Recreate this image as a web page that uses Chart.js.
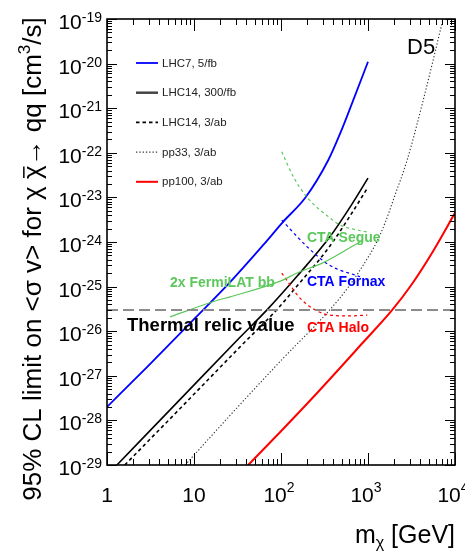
<!DOCTYPE html>
<html><head><meta charset="utf-8">
<script src="https://cdn.jsdelivr.net/npm/chart.js@4/dist/chart.umd.min.js"></script>
<style>html,body{margin:0;padding:0;background:#fff;}</style>
</head><body>
<canvas id="c" width="465" height="554"></canvas>
<script>
// ---- data ----
const lhc7Mass   = [1, 3, 10, 26, 63, 105, 190, 350, 480, 700, 1000];
const lhc7Limit  = [2.0e-28, 1.7e-27, 1.86e-26, 1.26e-25, 8.7e-25, 2.8e-24, 9.8e-24, 6.9e-23, 2.75e-22, 1.8e-21, 1.1e-20];

const lhc14Mass  = [1.3, 7.2, 34, 69, 151, 363, 630, 1000];
const lhc14Limit = [1.0e-29, 3.2e-28, 7.4e-27, 3.0e-26, 1.66e-25, 1.29e-24, 6.3e-24, 2.7e-23];

const lhc14abMass  = [1.6, 7.2, 34, 89, 151, 363, 630, 1000];
const lhc14abLimit = [1.0e-29, 2.0e-28, 4.5e-27, 3.0e-26, 1.0e-25, 8.0e-25, 4.0e-24, 1.7e-23];

const pp33Mass  = [7.9, 26, 100, 363, 600, 1000, 1260, 1585, 2000, 2820, 4270, 7080, 7940];
const pp33Limit = [1.0e-29, 1.3e-28, 2.2e-27, 3.0e-26, 1.0e-25, 4.5e-25, 1.0e-24, 2.8e-24, 1.0e-23, 6.9e-23, 1.4e-21, 7.9e-20, 2.0e-19];

const pp100Mass  = [42, 98, 234, 870, 1900, 3160, 5620, 10000];
const pp100Limit = [1.0e-29, 5.5e-29, 3.3e-28, 5.5e-27, 3.0e-26, 1.1e-25, 6.3e-25, 4.5e-24];

const fermiMass  = [5.3, 19, 26, 105, 151, 302, 870];
const fermiLimit = [2.1e-26, 5.0e-26, 5.9e-26, 1.4e-25, 2.0e-25, 3.4e-25, 1.1e-24];

const segueMass  = [102, 140, 200, 363, 480, 980];
const segueLimit = [1.05e-22, 2.8e-23, 1.0e-23, 3.5e-24, 2.4e-24, 1.66e-24];

const fornaxMass  = [102, 200, 363, 810];
const fornaxLimit = [3.1e-24, 7.8e-25, 3.0e-25, 1.66e-25];

const haloMass  = [102, 174, 363, 600, 980];
const haloLimit = [2.0e-25, 5.0e-26, 2.3e-26, 2.2e-26, 2.3e-26];

const thermalMass  = [1, 10000];
const thermalValue = [3.0e-26, 3.0e-26];

const xTickExponents = [0, 1, 2, 3, 4];
const yTickExponents = [-29, -28, -27, -26, -25, -24, -23, -22, -21, -20, -19];

const legendLabels = ["LHC7, 5/fb", "LHC14, 300/fb", "LHC14, 3/ab", "pp33, 3/ab", "pp100, 3/ab"];

// ---- styling ----
const BLUE = '#0000ff', RED = '#ff0000', GREEN = '#5cc85c', BLACK = '#000000';
const FONT = '"Liberation Sans", Arial, Helvetica, sans-serif';

function pts(ms, vs){ return ms.map((m,i)=>({x:m, y:vs[i]})); }

const datasets = [
  {label:'thermal', data:pts(thermalMass, thermalValue), borderColor:'#8c8c8c', borderWidth:2, borderDash:[11,5]},
  {label:'fermi', data:pts(fermiMass, fermiLimit), borderColor:GREEN, borderWidth:1.2},
  {label:'segue', data:pts(segueMass, segueLimit), borderColor:GREEN, borderWidth:1.2, borderDash:[3,3]},
  {label:'fornax', data:pts(fornaxMass, fornaxLimit), borderColor:BLUE, borderWidth:1.2, borderDash:[3,3]},
  {label:'halo', data:pts(haloMass, haloLimit), borderColor:RED, borderWidth:1.2, borderDash:[3,3]},
  {label:legendLabels[0], data:pts(lhc7Mass, lhc7Limit), borderColor:BLUE, borderWidth:1.8, legend:true},
  {label:legendLabels[1], data:pts(lhc14Mass, lhc14Limit), borderColor:BLACK, borderWidth:1.6, legend:true, legendColor:'#444', legendWidth:2.5},
  {label:legendLabels[2], data:pts(lhc14abMass, lhc14abLimit), borderColor:BLACK, borderWidth:1.6, borderDash:[3.5,3], legend:true},
  {label:legendLabels[3], data:pts(pp33Mass, pp33Limit), borderColor:'#333', borderWidth:1.1, borderDash:[1.3,2], legend:true},
  {label:legendLabels[4], data:pts(pp100Mass, pp100Limit), borderColor:RED, borderWidth:2, legend:true},
];
datasets.forEach(d=>{ d.pointRadius=0; d.fill=false; d.cubicInterpolationMode='monotone'; });

function drawSup(ctx, base, exp, x, y, baseSize, supSize, supRise, align){
  ctx.font = baseSize + 'px ' + FONT;
  const wb = ctx.measureText(base).width;
  ctx.font = supSize + 'px ' + FONT;
  const ws = exp ? ctx.measureText(exp).width : 0;
  const total = wb + ws;
  let x0 = x;
  if (align === 'right') x0 = x - total;
  else if (align === 'center') x0 = x - total/2;
  ctx.textAlign = 'left';
  ctx.textBaseline = 'alphabetic';
  ctx.font = baseSize + 'px ' + FONT;
  ctx.fillText(base, x0, y);
  if (exp){
    ctx.font = supSize + 'px ' + FONT;
    ctx.fillText(exp, x0 + wb, y - supRise);
  }
}

const axesPlugin = {
  id:'rootAxes',
  afterDatasetsDraw(chart){
    const ctx = chart.ctx, xs = chart.scales.x, ys = chart.scales.y, a = chart.chartArea;
    ctx.save();
    ctx.strokeStyle = '#000';
    ctx.fillStyle = '#000';
    // ticks
    ctx.lineWidth = 1;
    ctx.beginPath();
    yTickExponents.forEach(e=>{
      for (let k=1;k<=9;k++){
        if (e === -19 && k>1) break;
        const py = Math.round(ys.getPixelForValue(k*Math.pow(10,e))) + 0.5;
        const len = k===1 ? 10 : 5;
        ctx.moveTo(a.left, py); ctx.lineTo(a.left+len, py);
        ctx.moveTo(a.right, py); ctx.lineTo(a.right-len, py);
      }
    });
    xTickExponents.forEach(e=>{
      for (let k=1;k<=9;k++){
        if (e === 4 && k>1) break;
        const px = Math.round(xs.getPixelForValue(k*Math.pow(10,e))) + 0.5;
        const len = k===1 ? 12 : 6;
        ctx.moveTo(px, a.bottom); ctx.lineTo(px, a.bottom-len);
        ctx.moveTo(px, a.top); ctx.lineTo(px, a.top+len);
      }
    });
    ctx.stroke();
    // frame
    ctx.lineWidth = 1.6;
    ctx.strokeRect(a.left, a.top, a.right-a.left, a.bottom-a.top);

    // y tick labels
    yTickExponents.forEach(e=>{
      const py = ys.getPixelForValue(Math.pow(10,e));
      drawSup(ctx, '10', String(e), a.left-5, py+10, 21, 14, 7, 'right');
    });
    // x tick labels
    xTickExponents.forEach(e=>{
      const px = xs.getPixelForValue(Math.pow(10,e));
      let base, exp;
      if (e===0){ base='1'; exp=''; }
      else if (e===1){ base='10'; exp=''; }
      else { base='10'; exp=String(e); }
      drawSup(ctx, base, exp, px - (exp?2:0), a.bottom+37, 21, 14, 10, 'center');
    });

    // x title: m_chi [GeV]
    {
      const size = 25, sub = 16;
      ctx.font = size+'px '+FONT; const w1 = ctx.measureText('m').width;
      const w3 = ctx.measureText(' [GeV]').width;
      ctx.font = sub+'px '+FONT; const w2 = ctx.measureText('χ').width;
      const x0 = a.right - (w1+w2+w3);
      const yb = a.bottom + 78;
      ctx.textAlign='left'; ctx.textBaseline='alphabetic';
      ctx.font = size+'px '+FONT; ctx.fillText('m', x0, yb);
      ctx.font = sub+'px '+FONT; ctx.fillText('χ', x0+w1, yb+5);
      ctx.font = size+'px '+FONT; ctx.fillText(' [GeV]', x0+w1+w2, yb);
    }

    // y title (rotated)
    {
      const size = 26;
      const segs = [
        {t:'95% CL limit on <σ v> for χ ', s:size, dy:0},
        {t:'χ', s:size, dy:0, over:true},
        {t:'→ qq [cm', s:size, dy:0},
        {t:'3', s:17, dy:-11},
        {t:'/s]', s:size, dy:0},
      ];
      let total = 0;
      segs.forEach(g=>{ ctx.font = g.s+'px '+FONT; g.w = ctx.measureText(g.t).width; total += g.w; });
      ctx.save();
      ctx.translate(41, 259);
      ctx.rotate(-Math.PI/2);
      ctx.textAlign='left'; ctx.textBaseline='alphabetic';
      let x = -total/2;
      segs.forEach(g=>{
        ctx.font = g.s+'px '+FONT;
        ctx.fillText(g.t, x, g.dy);
        if (g.over){
          ctx.lineWidth = 1.5;
          ctx.beginPath(); ctx.moveTo(x+1, -g.s*0.66); ctx.lineTo(x+g.w-1, -g.s*0.66); ctx.stroke();
        }
        x += g.w;
      });
      ctx.restore();
    }

    // legend
    const legendDs = chart.data.datasets.filter(d=>d.legend);
    legendDs.forEach((d,i)=>{
      const y = 63 + i*29.7;
      ctx.save();
      ctx.strokeStyle = d.legendColor || d.borderColor;
      ctx.lineWidth = d.legendWidth || d.borderWidth;
      ctx.setLineDash(d.borderDash || []);
      ctx.beginPath(); ctx.moveTo(136, y); ctx.lineTo(158, y); ctx.stroke();
      ctx.restore();
      ctx.fillStyle = '#222';
      ctx.font = '11.5px '+FONT;
      ctx.textAlign='left'; ctx.textBaseline='middle';
      ctx.fillText(d.label, 162, y+0.5);
    });

    // annotations
    ctx.textAlign='left'; ctx.textBaseline='alphabetic';
    ctx.font = 'bold 14px '+FONT;
    ctx.fillStyle = GREEN; ctx.fillText('CTA Segue', 307, 242);
    ctx.fillStyle = BLUE;  ctx.fillText('CTA Fornax', 307, 286);
    ctx.fillStyle = GREEN; ctx.fillText('2x FermiLAT bb', 170, 287);
    ctx.fillStyle = RED;   ctx.fillText('CTA Halo', 307, 332);
    ctx.fillStyle = '#000'; ctx.font = 'bold 18.5px '+FONT;
    ctx.fillText('Thermal relic value', 127, 331);
    ctx.font = '22px '+FONT;
    ctx.fillText('D5', 407, 54);
    ctx.restore();
  }
};

new Chart(document.getElementById('c').getContext('2d'), {
  type:'line',
  data:{datasets},
  options:{
    responsive:false,
    animation:false,
    layout:{padding:{left:107, right:10, top:19, bottom:89}},
    scales:{
      x:{type:'logarithmic', min:1, max:1e4, display:false},
      y:{type:'logarithmic', min:1e-29, max:1e-19, display:false}
    },
    plugins:{legend:{display:false}, tooltip:{enabled:false}},
    elements:{point:{radius:0}}
  },
  plugins:[axesPlugin]
});
</script>
</body></html>
